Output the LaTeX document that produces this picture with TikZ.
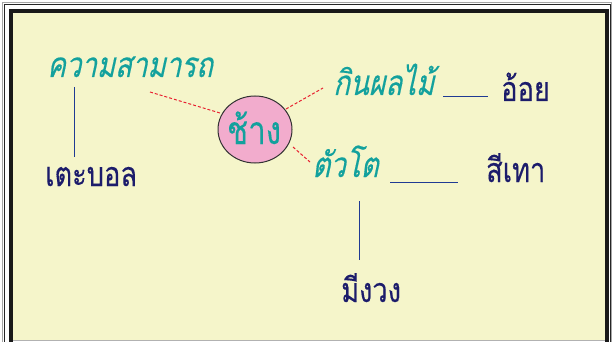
\documentclass[tikz,border=0pt]{standalone}
\usepackage{fontspec}
\usetikzlibrary{shapes.geometric}
\newfontfamily\thaifont[Script=Thai,FakeBold=0.25,FakeStretch=0.8]{Loma}
\newfontfamily\thaiit[Script=Thai,FakeSlant=0.22,FakeBold=0.3,FakeStretch=0.79]{Loma}
\definecolor{bgyellow}{HTML}{F5F5CA}
\definecolor{tealtxt}{HTML}{13A19D}
\definecolor{navytxt}{HTML}{1C1C6B}
\definecolor{blueline}{HTML}{1F3A93}
\definecolor{pinkfill}{HTML}{F2ACCD}
\definecolor{reddash}{HTML}{E82030}
\begin{document}
\begin{tikzpicture}[x=1pt,y=-1pt,
  tealword/.style={anchor=base west,inner sep=0pt,text=tealtxt,font=\thaiit\fontsize{35}{38}\selectfont},
  navyword/.style={anchor=base west,inner sep=0pt,text=navytxt,font=\thaifont\fontsize{34}{37}\selectfont},
  solidlink/.style={draw=blueline,line width=1pt},
  dashlink/.style={draw=reddash,line width=1pt,dash pattern=on 3pt off 2pt}]
\useasboundingbox (0,0) rectangle (612,342);
% frame
\fill[white] (0,0) rectangle (612,342);
\draw[gray!70,line width=0.7pt] (2.5,2.5) rectangle (611.5,345);
\draw[black!85,line width=1pt] (4.5,4.5) rectangle (610,345);
\fill[bgyellow] (13,13) rectangle (605,340);
\draw[black!90,line width=4pt] (11,350) -- (11,11) -- (606.5,11) -- (606.5,350);
\draw[gray!60,line width=1pt] (13,340.5) -- (605,340.5);
% centre
\node (c) [ellipse,draw=black!80,line width=1pt,fill=pinkfill,minimum width=74pt,minimum height=67pt,inner sep=0pt] at (255,129.5) {};
\node (ct) [anchor=base,inner sep=0pt,text=tealtxt,font=\thaifont\fontsize{39}{42}\selectfont] at (254,144) {ช้าง};
% words
\node (w1) [tealword] at (47,77) {ความสามารถ};
\node (w2) [navyword] at (45,186) {เตะบอล};
\node (w3) [tealword] at (333,95) {กินผลไม้};
\node (w4) [navyword] at (501,101) {อ้อย};
\node (w5) [tealword] at (312,177) {ตัวโต};
\node (w6) [navyword] at (486,182) {สีเทา};
\node (w7) [navyword] at (341,302) {มีงวง};
% connector ends
\coordinate (d1a) at (150,92);  \coordinate (d1b) at (220,113);
\coordinate (d2a) at (286,109); \coordinate (d2b) at (323,88);
\coordinate (d3a) at (293,147); \coordinate (d3b) at (310,162);
\coordinate (s1a) at (74,87);   \coordinate (s1b) at (74,157);
\coordinate (s2a) at (443,97);  \coordinate (s2b) at (488,97);
\coordinate (s3a) at (390,182); \coordinate (s3b) at (458,182);
\coordinate (s4a) at (359,201); \coordinate (s4b) at (359,260);
\draw[dashlink] (d1a) -- (d1b);
\draw[dashlink] (d2a) -- (d2b);
\draw[dashlink] (d3a) -- (d3b);
\draw[solidlink] (s1a) -- (s1b);
\draw[solidlink] (s2a) -- (s2b);
\draw[solidlink] (s3a) -- (s3b);
\draw[solidlink] (s4a) -- (s4b);
\end{tikzpicture}
\end{document}
